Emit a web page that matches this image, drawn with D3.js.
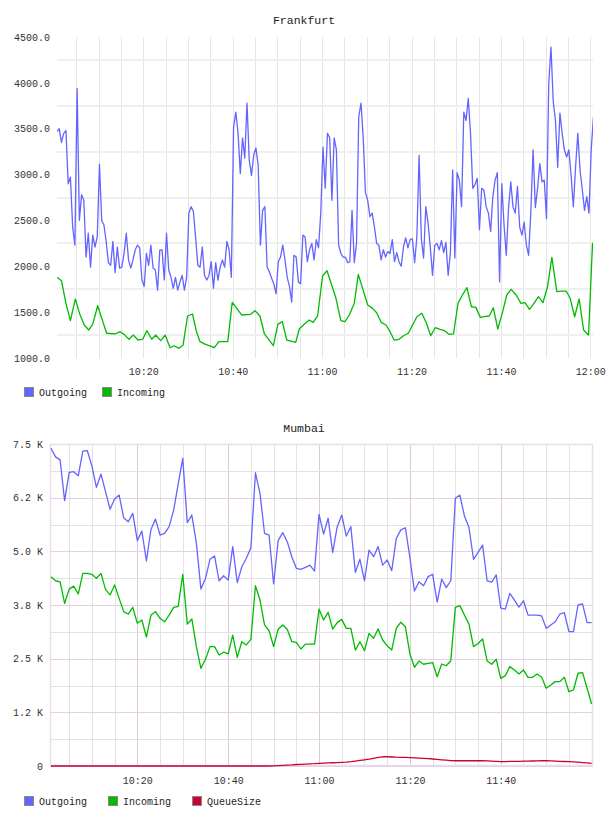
<!DOCTYPE html>
<html><head><meta charset="utf-8">
<script src="https://cdn.jsdelivr.net/npm/d3@7/dist/d3.min.js"></script>
<style>
body{margin:0;background:#fff;width:608px;height:816px;overflow:hidden;position:relative}
svg{position:absolute;left:0;display:block}
text{font-family:"Liberation Mono","DejaVu Sans Mono",monospace}
</style>
</head><body>
<script>
// ---------------- DATA ----------------
// Frankfurt: Outgoing sampled every 30 s starting 10:00:42
const frankfurtOutgoingStartMin = 0.7;
const frankfurtOutgoingStepMin = 0.5;
const frankfurtOutgoing = [
3470,3500,3350,3450,3480,2900,2970,2430,2230,3940,2500,2780,2720,2100,2360,1990,2340,2210,2320,3110,
2500,2450,2270,2040,2010,2270,1930,2210,1980,1990,2140,2360,2070,1980,2070,2180,2230,2200,1850,1780,
2140,2010,2230,1980,1960,1740,2180,2180,1850,2360,1960,1880,1760,1880,1740,1830,1900,1740,1880,2580,
2650,2600,2320,2010,1990,2210,1900,1850,1900,2050,1760,2040,1850,1990,2070,1990,2270,2180,1880,3520,
3680,3450,3010,3400,3180,3780,3160,2990,3210,3290,3100,2230,2610,2650,1990,1940,1870,1810,1700,2050,
2100,2230,2070,1880,1780,1610,2120,2100,1830,1810,2340,2320,2050,2180,2250,2070,2290,2200,2580,3300,
2850,3450,3400,2720,3400,3270,2230,2140,2100,2100,2040,2050,2610,2040,2250,3630,3780,3400,2800,2720,
2540,2580,2430,2250,2230,2070,2180,2100,2160,2140,2290,2050,2150,2050,2000,2210,2310,2200,2290,2300,
2040,2320,3210,2300,2090,2650,2470,2210,1900,2230,2250,2180,2280,2150,2260,1900,2150,3050,2090,3020,
2940,2650,3680,3590,3830,3450,2850,2890,2960,2400,2850,2830,2650,2580,2380,2760,2940,3020,1830,2900,
2450,2120,2630,2920,2650,2580,2870,2430,2340,2480,2230,2120,2600,3270,2640,2850,3120,2920,2940,2520,
3990,4390,3800,3590,3080,3670,3450,3270,3190,3270,2990,2650,3080,3450,3050,2840,2610,2760,2580,3270,
3630];
// Frankfurt: Incoming, minutes after 10:00 and values
const frankfurtIncomingMin = [
0.7,1.7,2.7,3.7,4.8,5.8,6.8,7.8,8.7,9.8,11.8,13.7,14.8,15.7,16.8,17.8,18.8,19.9,20.8,21.9,
22.8,23.9,24.9,26.0,26.9,28.0,28.9,29.9,31.0,31.9,32.7,33.8,35.9,36.9,38.9,39.9,42.0,44.0,45.0,46.1,
47.1,49.1,50.1,51.1,52.1,54.1,54.9,56.0,57.1,58.0,59.0,60.1,61.1,63.1,64.2,65.1,66.1,67.2,68.1,70.2,
71.3,72.2,73.2,74.3,75.2,76.1,77.2,78.2,79.3,81.2,82.3,83.3,84.3,85.3,86.4,87.4,88.4,89.4,90.4,91.4,
92.4,93.4,94.4,95.4,96.3,97.4,98.3,99.3,100.4,101.3,102.3,103.4,104.5,105.4,106.4,107.5,108.4,109.4,110.4,111.4,
112.5,113.5,114.6,115.5,116.5,117.5,118.5,119.6,120.5];
const frankfurtIncoming = [
1880,1843,1596,1407,1643,1476,1360,1305,1370,1570,1270,1262,1287,1258,1204,1250,1196,1207,1298,1204,
1250,1189,1250,1112,1134,1105,1141,1458,1480,1287,1178,1152,1112,1178,1178,1607,1469,1476,1516,1458,
1262,1134,1367,1396,1196,1171,1316,1367,1414,1389,1458,1894,1952,1651,1407,1396,1469,1596,1912,1578,
1541,1494,1389,1360,1287,1196,1204,1243,1270,1450,1487,1385,1243,1330,1312,1298,1258,1262,1596,1687,
1767,1559,1552,1443,1450,1458,1548,1316,1505,1687,1749,1687,1596,1603,1530,1603,1669,1603,1771,2098,
1723,1730,1730,1651,1450,1643,1305,1250,2257];
const frankfurtYTicks = [1000,1500,2000,2500,3000,3500,4000,4500];
const frankfurtYGrid = [1250,1750,2250,2750,3250,3750,4250];
const frankfurtXTicks = ["10:20","10:40","11:00","11:20","11:40","12:00"];

// Mumbai: all series sampled every minute starting 10:01
const mumbaiStartMin = 1;
const mumbaiStepMin = 1;
const mumbaiOutgoing = [
7400,7200,7130,6180,6840,6855,6760,7336,7344,6990,6490,6800,6390,5980,6220,6310,5780,5690,5885,5250,
5470,4775,5510,5750,5380,5420,5575,5960,6570,7165,5665,5845,5190,4120,4370,4815,4890,4315,4430,4330,
5110,4270,4640,4840,5085,6830,6350,5420,5380,4240,5250,5435,5225,4875,4605,4580,4625,4680,4540,5860,
5400,5770,4975,5575,5845,5355,5575,4510,4815,4315,5030,4875,5110,4680,4800,4550,5300,5500,5550,4850,
4075,4290,4200,4410,4465,3815,4355,4155,4315,6235,6310,5825,5560,4815,4975,5145,4310,4280,4450,3675,
3655,4020,3865,3700,3850,3515,3515,3515,3495,3205,3285,3360,3540,3570,3130,3130,3750,3775,3340,3340];
const mumbaiIncoming = [
4410,4315,4290,3790,4120,4190,4005,4485,4485,4465,4370,4485,4115,3985,4215,3905,3595,3540,3695,3325,
3400,3000,3515,3595,3440,3360,3515,3695,3720,4465,3305,3425,2780,2275,2485,2780,2780,2585,2650,2610,
3050,2530,2895,2820,2950,4200,3865,3285,3150,2780,3185,3285,3185,2895,2880,2725,2840,2840,2840,3655,
3400,3580,3190,3340,3415,3205,3205,2700,2895,2685,3090,2975,3190,2935,2800,2700,3205,3350,3245,2610,
2300,2445,2370,2390,2410,2080,2375,2335,2450,3695,3735,3515,3305,2780,2855,2960,2445,2370,2485,2040,
2105,2315,2235,2145,2235,2065,2065,2145,2065,1810,1885,1965,1965,2065,1730,1770,2160,2175,1810,1445];
const mumbaiQueueSize = [
0,0,0,0,0,0,0,0,0,0,0,0,0,0,0,0,0,0,0,0,
0,0,0,0,0,0,0,0,0,0,0,0,0,0,0,0,0,0,0,0,
0,0,0,0,0,0,0,0,0,5,10,15,20,25,35,40,45,50,55,63,
68,72,76,80,85,90,100,115,130,145,160,180,200,215,215,210,205,203,200,195,
190,185,178,170,163,155,145,135,125,122,122,122,122,122,122,122,118,112,106,100,
103,106,108,110,112,114,116,118,122,124,120,115,110,105,100,94,88,80,72,63];
const mumbaiYTicks = [0,1250,2500,3750,5000,6250,7500];
const mumbaiYTickLabels = ["0","1.2 K","2.5 K","3.8 K","5.0 K","6.2 K","7.5 K"];
const mumbaiXTicks = ["10:20","10:40","11:00","11:20","11:40"];

// ---------------- HELPERS ----------------
const base = new Date(2020,0,1,10,0,0);
const tAt = m => new Date(base.getTime() + m*60000);
const parseHM = s => { const [h,mi]=s.split(":").map(Number); return new Date(2020,0,1,h,mi,0); };
const COLORS = {Outgoing:"#6464ff", Incoming:"#00bb00", QueueSize:"#cc0033"};

function legend(svg, names, y, x0, gap){
  let x = x0;
  names.forEach(n=>{
    svg.append("rect").attr("x",x+0.5).attr("y",y+0.5).attr("width",9).attr("height",9)
      .attr("fill",COLORS[n]).attr("stroke","#888").attr("stroke-width",1);
    const t = svg.append("text").attr("x",x+15).attr("y",y+9).attr("font-size",10).attr("fill","#222").text(n);
    x += 15 + t.node().getComputedTextLength() + gap;
  });
}

// ---------------- FRANKFURT ----------------
(function(){
  const svg = d3.select("body").append("svg").attr("width",608).attr("height",405).style("top","0px");
  const L=57,R=593,T=37,B=358;
  const x = d3.scaleTime().domain([tAt(0.7), tAt(120.6)]).range([L,R]);
  const y = d3.scaleLinear().domain([1000,4500]).range([B,T]);
  svg.append("text").attr("x",304).attr("y",24).attr("text-anchor","middle").attr("font-size",11.5).attr("fill","#222").text("Frankfurt");
  // grid
  const vt = d3.timeMinute.every(5).range(tAt(0.7), tAt(120.61));
  svg.append("g").selectAll("line").data(vt).join("line")
    .attr("x1",d=>Math.round(x(d))+0.5).attr("x2",d=>Math.round(x(d))+0.5).attr("y1",T).attr("y2",B)
    .attr("stroke","#e6e6e6").attr("stroke-width",1);
  svg.append("g").selectAll("line").data(frankfurtYGrid).join("line")
    .attr("x1",L).attr("x2",R).attr("y1",d=>Math.round(y(d))).attr("y2",d=>Math.round(y(d)))
    .attr("stroke","#efefef").attr("stroke-width",2);
  // axes labels
  const ya = d3.axisLeft(y).tickValues(frankfurtYTicks).tickFormat(d=>d.toFixed(1)).tickSize(0).tickPadding(7);
  const yg = svg.append("g").attr("transform",`translate(${L},0)`).call(ya);
  yg.select(".domain").remove();
  yg.selectAll("text").attr("font-size",10).attr("fill","#333").attr("font-family",null);
  const xa = d3.axisBottom(x).tickValues(frankfurtXTicks.map(parseHM)).tickFormat(d3.timeFormat("%H:%M")).tickSize(0).tickPadding(10);
  const xg = svg.append("g").attr("transform",`translate(0,${B})`).call(xa);
  xg.select(".domain").remove();
  xg.selectAll("text").attr("font-size",10).attr("fill","#333").attr("font-family",null);
  // clip
  svg.append("clipPath").attr("id","cf").append("rect").attr("x",L).attr("y",T-2).attr("width",R-L).attr("height",B-T+4);
  const g = svg.append("g").attr("clip-path","url(#cf)");
  const line = d3.line().x(d=>x(d[0])).y(d=>y(d[1]));
  const outPts = frankfurtOutgoing.map((v,i)=>[tAt(frankfurtOutgoingStartMin+i*frankfurtOutgoingStepMin),v]);
  const inPts = frankfurtIncoming.map((v,i)=>[tAt(frankfurtIncomingMin[i]),v]);
  g.append("path").attr("d",line(outPts)).attr("fill","none").attr("stroke",COLORS.Outgoing).attr("stroke-width",1.3).attr("stroke-linejoin","round");
  g.append("path").attr("d",line(inPts)).attr("fill","none").attr("stroke",COLORS.Incoming).attr("stroke-width",1.3).attr("stroke-linejoin","round");
  legend(svg,["Outgoing","Incoming"],387,24,15);
})();

// ---------------- MUMBAI ----------------
(function(){
  const svg = d3.select("body").append("svg").attr("width",608).attr("height",411).style("top","405px");
  const off = 405;
  const L=50,R=593,T=444-off,B=766-off;
  const x = d3.scaleTime().domain([tAt(0.78), tAt(120.3)]).range([L,R]);
  const y = d3.scaleLinear().domain([0,7500]).range([B,T]);
  svg.append("text").attr("x",304).attr("y",428-off+4).attr("text-anchor","middle").attr("font-size",11.5).attr("fill","#222").text("Mumbai");
  const vt = d3.timeMinute.every(5).range(tAt(0.78), tAt(120.3));
  const major = d => d.getMinutes()%20===0;
  svg.append("g").selectAll("line").data(vt).join("line")
    .attr("x1",d=>Math.round(x(d))+0.5).attr("x2",d=>Math.round(x(d))+0.5).attr("y1",T).attr("y2",B)
    .attr("stroke",d=>major(d)?"#dcc8dc":"#e2e2e2").attr("stroke-width",1);
  const hg = d3.range(0,7500+1,625);
  svg.append("g").selectAll("line").data(hg).join("line")
    .attr("x1",L).attr("x2",R).attr("y1",d=>Math.round(y(d))+0.5).attr("y2",d=>Math.round(y(d))+0.5)
    .attr("stroke",d=>mumbaiYTicks.includes(d)?"#e4cfe4":"#e2e2e2").attr("stroke-width",1);
  svg.append("rect").attr("x",L+0.5).attr("y",T+0.5).attr("width",R-L-1).attr("height",B-T-1)
    .attr("fill","none").attr("stroke","#eadcea").attr("stroke-width",1.5);
  const ya = d3.axisLeft(y).tickValues(mumbaiYTicks).tickFormat((d,i)=>mumbaiYTickLabels[i]).tickSize(0).tickPadding(7);
  const yg = svg.append("g").attr("transform",`translate(${L},0)`).call(ya);
  yg.select(".domain").remove();
  yg.selectAll("text").attr("font-size",10).attr("fill","#333").attr("font-family",null);
  const xa = d3.axisBottom(x).tickValues(mumbaiXTicks.map(parseHM)).tickFormat(d3.timeFormat("%H:%M")).tickSize(0).tickPadding(11);
  const xg = svg.append("g").attr("transform",`translate(0,${B})`).call(xa);
  xg.select(".domain").remove();
  xg.selectAll("text").attr("font-size",10).attr("fill","#333").attr("font-family",null);
  svg.append("clipPath").attr("id","cm").append("rect").attr("x",L).attr("y",T-2).attr("width",R-L).attr("height",B-T+3);
  const g = svg.append("g").attr("clip-path","url(#cm)");
  const line = d3.line().x(d=>x(d[0])).y(d=>y(d[1]));
  const pts = arr => arr.map((v,i)=>[tAt(mumbaiStartMin+i*mumbaiStepMin),v]);
  [["Outgoing",mumbaiOutgoing],["Incoming",mumbaiIncoming],["QueueSize",mumbaiQueueSize]].forEach(([n,a])=>{
    g.append("path").attr("d",line(pts(a))).attr("fill","none").attr("stroke",COLORS[n]).attr("stroke-width",1.3).attr("stroke-linejoin","round");
  });
  legend(svg,["Outgoing","Incoming","QueueSize"],796-off,24,21);
})();
</script>
</body></html>
